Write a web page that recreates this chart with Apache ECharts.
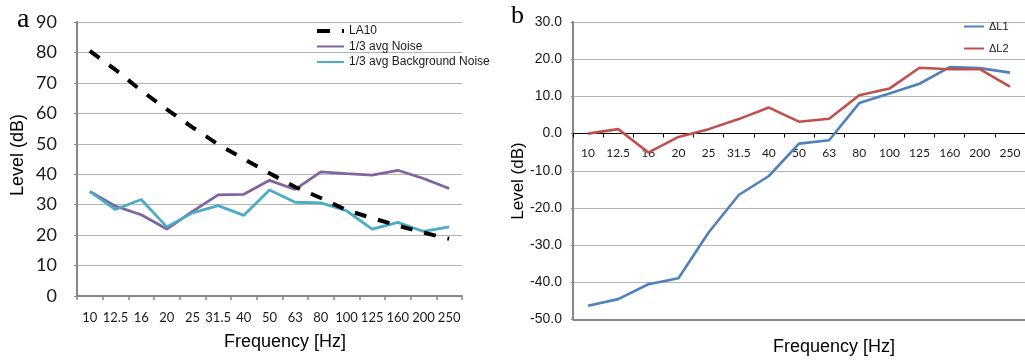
<!DOCTYPE html>
<html>
<head>
<meta charset="utf-8">
<title>Frequency levels</title>
<script src="https://cdn.jsdelivr.net/npm/echarts@6/dist/echarts.min.js"></script>
<style>
  html, body { margin: 0; padding: 0; background: #ffffff; }
  #chart { width: 1025px; height: 360px; }
</style>
</head>
<body>
<div id="chart"></div>
<script>
// One-third octave band centre frequencies (Hz)
const freqLabels = ['10', '12.5', '16', '20', '25', '31.5', '40', '50', '63', '80', '100', '125', '160', '200', '250'];

// Panel a: levels in dB
const la10 = [80.5, 74.3, 67.5, 61.3, 55.4, 49.8, 45.0, 40.3, 35.8, 32.2, 28.2, 25.6, 23.1, 20.8, 18.8];
const avgNoise = [34.3, 29.5, 26.7, 22.0, 27.8, 33.2, 33.4, 38.0, 35.0, 40.8, 40.2, 39.7, 41.3, 38.6, 35.3];
const bgNoise = [34.3, 28.4, 31.7, 22.7, 27.3, 29.7, 26.5, 34.8, 30.8, 30.6, 28.0, 22.0, 24.2, 21.2, 22.7];

// Panel b: level differences in dB
const deltaL1 = [-46.3, -44.5, -40.5, -38.9, -26.6, -16.5, -11.4, -2.7, -1.8, 8.2, 10.8, 13.4, 17.9, 17.6, 16.4];
const deltaL2 = [0.0, 1.2, -5.1, -0.9, 1.2, 3.9, 7.0, 3.2, 4.0, 10.3, 12.1, 17.7, 17.3, 17.3, 12.6];

// Value-axis ranges
const leftRange = { min: 0, max: 90, step: 10 };
const rightRange = { min: -50, max: 30, step: 10 };

const narrowFont = '"Liberation Sans Narrow", "Lato", sans-serif';
const sansFont = '"Liberation Sans", Arial, sans-serif';
const gridColor = '#b4b4b4';
const axisColor = '#878787';

// Plot areas of the two panels
const gridA = { left: 77, top: 22, width: 385, height: 274 };
const gridB = { left: 573, top: 22, width: 459, height: 297.6 };

// Panel b's category axis sits on the zero level: lift it from the bottom edge
const zeroLift = gridB.height * (0 - rightRange.min) / (rightRange.max - rightRange.min);

const chart = echarts.init(document.getElementById('chart'), null, { renderer: 'canvas' });

chart.setOption({
  animation: false,
  backgroundColor: '#ffffff',
  grid: [
    Object.assign({ containLabel: false }, gridA),
    Object.assign({ containLabel: false }, gridB)
  ],
  xAxis: [
    {
      type: 'category', gridIndex: 0, data: freqLabels, boundaryGap: true,
      axisLine: { lineStyle: { color: axisColor, width: 2 } },
      axisTick: { show: true, length: 4, lineStyle: { color: axisColor, width: 1.5 } },
      axisLabel: { color: '#1a1a1a', fontFamily: narrowFont, fontSize: 13, margin: 15, interval: 0 },
      splitLine: { show: false }
    },
    {
      type: 'category', gridIndex: 1, data: freqLabels, boundaryGap: true, position: 'bottom',
      offset: -zeroLift,
      axisLine: { onZero: false, lineStyle: { color: '#000000', width: 1.2 } },
      axisTick: { show: true, length: 4, lineStyle: { color: '#000000', width: 1 } },
      axisLabel: { color: '#1a1a1a', fontFamily: narrowFont, fontSize: 12, margin: 14, interval: 0 },
      splitLine: { show: false }
    }
  ],
  yAxis: [
    {
      type: 'value', gridIndex: 0, min: leftRange.min, max: leftRange.max, interval: leftRange.step,
      axisLine: { show: true, lineStyle: { color: axisColor, width: 2 } },
      axisTick: { show: true, length: 3, lineStyle: { color: axisColor } },
      axisLabel: { color: '#1a1a1a', fontFamily: narrowFont, fontSize: 18, margin: 20 },
      splitLine: { show: true, lineStyle: { color: gridColor, width: 1.2 } }
    },
    {
      type: 'value', gridIndex: 1, min: rightRange.min, max: rightRange.max, interval: rightRange.step,
      axisLine: { show: true, onZero: false, lineStyle: { color: axisColor, width: 2 } },
      axisTick: { show: true, length: 2, lineStyle: { color: axisColor } },
      axisLabel: {
        color: '#1a1a1a', fontFamily: sansFont, fontSize: 14, margin: 11,
        formatter: v => v.toFixed(1)
      },
      splitLine: { show: true, lineStyle: { color: gridColor, width: 1.2 } }
    }
  ],
  legend: [
    {
      orient: 'vertical', left: 315, top: 25, padding: 0,
      itemWidth: 27, itemHeight: 12, itemGap: 3.5,
      itemStyle: { opacity: 0 },
      textStyle: { fontFamily: sansFont, fontSize: 12, color: '#1a1a1a' },
      data: [
        { name: 'LA10', lineStyle: { type: [13, 12], width: 4 } },
        { name: '1/3 avg Noise' },
        { name: '1/3 avg Background Noise' }
      ]
    },
    {
      orient: 'vertical', left: 963, top: 21, padding: 0,
      itemWidth: 20, itemHeight: 12, itemGap: 11,
      itemStyle: { opacity: 0 },
      textStyle: { fontFamily: sansFont, fontSize: 11, color: '#1a1a1a' },
      data: ['ΔL1', 'ΔL2']
    }
  ],
  series: [
    {
      name: 'LA10', type: 'line', xAxisIndex: 0, yAxisIndex: 0, data: la10,
      symbol: 'none', z: 4,
      lineStyle: { color: '#000000', width: 4, type: [12, 12] },
      itemStyle: { color: '#000000' }
    },
    {
      name: '1/3 avg Noise', type: 'line', xAxisIndex: 0, yAxisIndex: 0, data: avgNoise,
      symbol: 'none', z: 3,
      lineStyle: { color: '#8064a2', width: 2.8 },
      itemStyle: { color: '#8064a2' }
    },
    {
      name: '1/3 avg Background Noise', type: 'line', xAxisIndex: 0, yAxisIndex: 0, data: bgNoise,
      symbol: 'none', z: 3,
      lineStyle: { color: '#4bacc6', width: 2.8 },
      itemStyle: { color: '#4bacc6' }
    },
    {
      name: 'ΔL1', type: 'line', xAxisIndex: 1, yAxisIndex: 1, data: deltaL1,
      symbol: 'none', z: 3,
      lineStyle: { color: '#4f81bd', width: 2.6 },
      itemStyle: { color: '#4f81bd' },
      // darker bottom border of panel b at the axis minimum
      markLine: {
        silent: true, symbol: 'none', label: { show: false },
        lineStyle: { color: axisColor, width: 2, type: 'solid' },
        data: [{ yAxis: rightRange.min }]
      }
    },
    {
      name: 'ΔL2', type: 'line', xAxisIndex: 1, yAxisIndex: 1, data: deltaL2,
      symbol: 'none', z: 3,
      lineStyle: { color: '#c0504d', width: 2.6 },
      itemStyle: { color: '#c0504d' }
    }
  ],
  graphic: [
    {
      type: 'text', left: 17, top: 6,
      style: { text: 'a', font: '28px "Liberation Serif", "Times New Roman", serif', fill: '#000000' }
    },
    {
      type: 'text', left: 511, top: 3,
      style: { text: 'b', font: '26px "Liberation Serif", "Times New Roman", serif', fill: '#000000' }
    },
    {
      type: 'text', x: 18, y: 155, rotation: Math.PI / 2,
      style: {
        text: 'Level (dB)', font: '18px ' + sansFont, fill: '#000000',
        align: 'center', verticalAlign: 'middle'
      }
    },
    {
      type: 'text', x: 518, y: 181, rotation: Math.PI / 2,
      style: {
        text: 'Level (dB)', font: '17px ' + sansFont, fill: '#000000',
        align: 'center', verticalAlign: 'middle'
      }
    },
    {
      type: 'text', x: 285, y: 342,
      style: {
        text: 'Frequency [Hz]', font: '18px ' + sansFont, fill: '#000000',
        align: 'center', verticalAlign: 'middle'
      }
    },
    {
      type: 'text', x: 834, y: 347,
      style: {
        text: 'Frequency [Hz]', font: '18px ' + sansFont, fill: '#000000',
        align: 'center', verticalAlign: 'middle'
      }
    }
  ]
});
</script>
</body>
</html>
